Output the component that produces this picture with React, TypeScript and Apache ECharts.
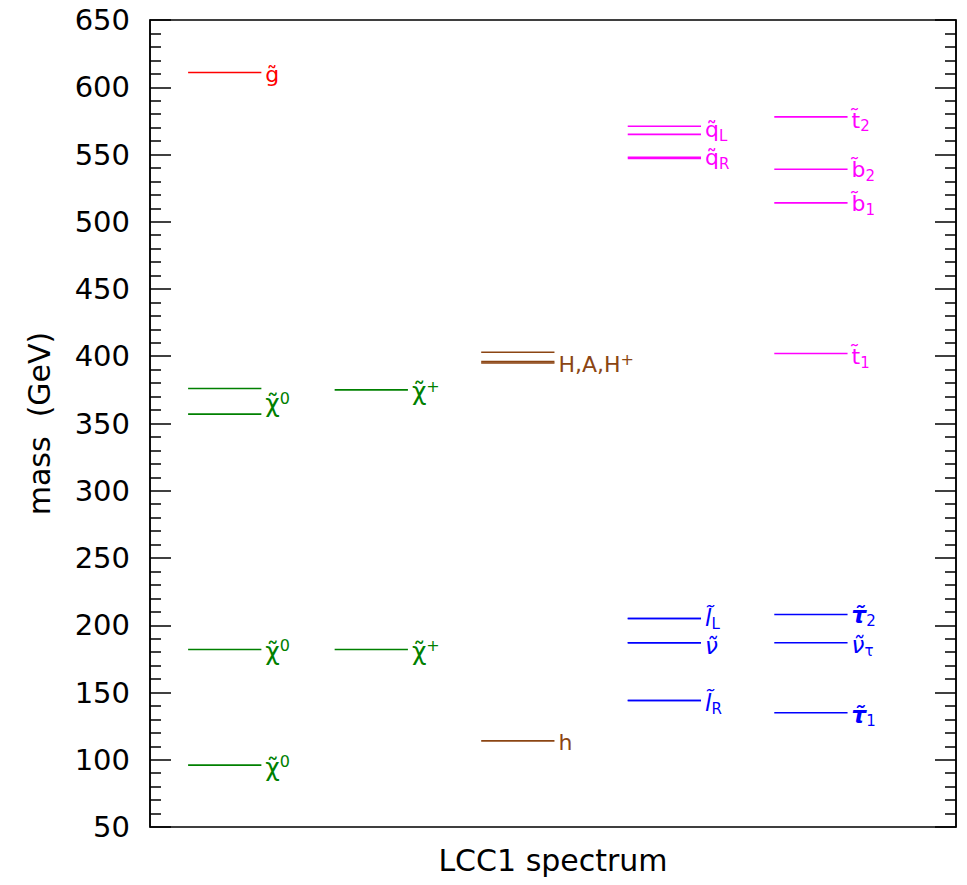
import React, { useEffect, useRef } from "react";
import * as echarts from "echarts";

// ---- data ----
const yMin = 50;
const yMax = 650;
const yStep = 50;
const xTitle = "LCC1 spectrum";
const yTitle = "mass\u00A0\u00A0(GeV)";

const gluinoMasses = [611];
const neutralinoMasses = [96, 182, 357, 376];
const charginoMasses = [182, 375];
const lightHiggsMasses = [114];
const heavyHiggsMasses = [403, 395, 396]; // H, A, H+
const squarkMasses = [571, 565, 548, 547]; // uL, dL, uR, dR
const thirdGenSquarkMasses = [578, 539, 514, 402]; // t2, b2, b1, t1
const sleptonMasses = [205, 205, 187, 187, 144, 144]; // lL, sneutrino, lR (e, mu)
const stauMasses = [208, 187, 135]; // tau2, sneutrino_tau, tau1

const groups = [
  { col: 0, color: "#ff0000", masses: gluinoMasses },
  { col: 0, color: "#008000", masses: neutralinoMasses },
  { col: 1, color: "#008000", masses: charginoMasses },
  { col: 2, color: "#8b4513", masses: lightHiggsMasses },
  { col: 2, color: "#8b4513", masses: heavyHiggsMasses },
  { col: 3, color: "#ff00ff", masses: squarkMasses },
  { col: 4, color: "#ff00ff", masses: thirdGenSquarkMasses },
  { col: 3, color: "#0000ff", masses: sleptonMasses },
  { col: 4, color: "#0000ff", masses: stauMasses },
];

const labelTexts = [
  "{m|g\u0303}",
  "{g|\u03C7\u0303}{p|0}",
  "{g|\u03C7\u0303}{p|0}",
  "{g|\u03C7\u0303}{p|0}",
  "{g|\u03C7\u0303}{p|+}",
  "{g|\u03C7\u0303}{p|+}",
  "{m|H,A,H}{p|+}",
  "{m|h}",
  "{m|q\u0303}{s|L}",
  "{m|q\u0303}{s|R}",
  "{m|t\u0303}{s|2}",
  "{m|b\u0303}{s|2}",
  "{m|b\u0303}{s|1}",
  "{m|t\u0303}{s|1}",
  "{i|l\u0303}{s|L}",
  "{i|\u03BD\u0303}",
  "{i|l\u0303}{s|R}",
  "{b|\u03C4\u0303}{s|2}",
  "{i|\u03BD\u0303}{s|\u03C4}",
  "{b|\u03C4\u0303}{s|1}",
];
const labelColumns = [0, 0, 0, 0, 1, 1, 2, 2, 3, 3, 4, 4, 4, 4, 3, 3, 3, 4, 4, 4];
const labelMasses = [611, 366, 182, 96, 375, 182, 395, 114, 570, 549, 577, 540, 515, 401, 207, 186, 144, 209, 187, 135];
const labelColors = [
  "#ff0000", "#008000", "#008000", "#008000", "#008000", "#008000",
  "#8b4513", "#8b4513", "#ff00ff", "#ff00ff", "#ff00ff", "#ff00ff",
  "#ff00ff", "#ff00ff", "#0000ff", "#0000ff", "#0000ff", "#0000ff",
  "#0000ff", "#0000ff",
];

const FONT = "'DejaVu Sans', 'Liberation Sans', sans-serif";

export default function App() {
  const ref = useRef<HTMLDivElement>(null);

  useEffect(() => {
    if (!ref.current) return;
    const chart = echarts.init(ref.current, undefined, { renderer: "svg" });

    const lineData: any[] = [];
    groups.forEach((g) => g.masses.forEach((m) => lineData.push([g.col, m, g.color])));
    const labelData = labelTexts.map((_, i) => [labelColumns[i], labelMasses[i], i]);

    const rich = {
      m: { fontSize: 22, fontFamily: FONT, lineHeight: 27 },
      g: { fontSize: 25, fontFamily: FONT, lineHeight: 27 },
      i: { fontSize: 23, fontFamily: FONT, fontStyle: "italic", lineHeight: 27 },
      b: { fontSize: 23, fontFamily: FONT, fontStyle: "italic", fontWeight: "bold", lineHeight: 27 },
      s: { fontSize: 15, fontFamily: FONT, lineHeight: 11, verticalAlign: "bottom" },
      p: { fontSize: 16, fontFamily: FONT, lineHeight: 16, verticalAlign: "top" },
    };

    const axisCommon = {
      type: "value",
      min: yMin,
      max: yMax,
      interval: yStep,
      axisLine: { show: true, lineStyle: { color: "#000", width: 1.5 } },
      axisTick: { show: true, inside: true, length: 21, lineStyle: { color: "#000", width: 1.5 } },
      minorTick: { show: true, splitNumber: 5, length: 11, lineStyle: { color: "#000", width: 1.5 } },
      splitLine: { show: false },
      minorSplitLine: { show: false },
    };

    chart.setOption({
      animation: false,
      grid: {
        left: 150,
        right: 11,
        top: 20,
        bottom: 58,
        show: true,
        borderColor: "#000",
        borderWidth: 1.5,
      },
      xAxis: {
        type: "value",
        min: 0,
        max: 5.5,
        axisLine: { show: false },
        axisTick: { show: false },
        axisLabel: { show: false },
        splitLine: { show: false },
        name: xTitle,
        nameLocation: "middle",
        nameGap: 18,
        nameTextStyle: { fontSize: 30, fontFamily: FONT, color: "#000", verticalAlign: "top" },
      },
      yAxis: [
        {
          ...axisCommon,
          position: "left",
          axisLabel: { fontSize: 29, fontFamily: FONT, color: "#000", margin: 20 },
          name: yTitle,
          nameLocation: "middle",
          nameGap: 96,
          nameTextStyle: { fontSize: 30, fontFamily: FONT, color: "#000" },
        },
        {
          ...axisCommon,
          position: "right",
          axisLabel: { show: false },
        },
      ],
      series: [
        {
          type: "custom",
          data: lineData,
          encode: { x: 0, y: 1 },
          renderItem: (params: any, api: any) => {
            const col = api.value(0);
            const m = api.value(1);
            const a = api.coord([col + 0.26, m]);
            const b = api.coord([col + 0.76, m]);
            const color = lineData[params.dataIndex][2];
            return {
              type: "line",
              shape: { x1: a[0], y1: a[1], x2: b[0], y2: b[1] },
              style: { stroke: color, lineWidth: 1.6 },
            };
          },
        },
        {
          type: "custom",
          data: labelData,
          encode: { x: 0, y: 1 },
          renderItem: (params: any, api: any) => {
            const idx = labelData[params.dataIndex][2];
            const p = api.coord([api.value(0) + 0.76, api.value(1)]);
            return {
              type: "text",
              x: p[0] + 4,
              y: p[1] + 2,
              style: {
                text: labelTexts[idx],
                rich,
                fill: labelColors[idx],
                align: "left",
                verticalAlign: "middle",
                fontFamily: FONT,
                fontSize: 22,
              },
            };
          },
        },
      ],
    });

    return () => chart.dispose();
  }, []);

  return <div ref={ref} style={{ width: 967, height: 885, margin: -8 }} />;
}
